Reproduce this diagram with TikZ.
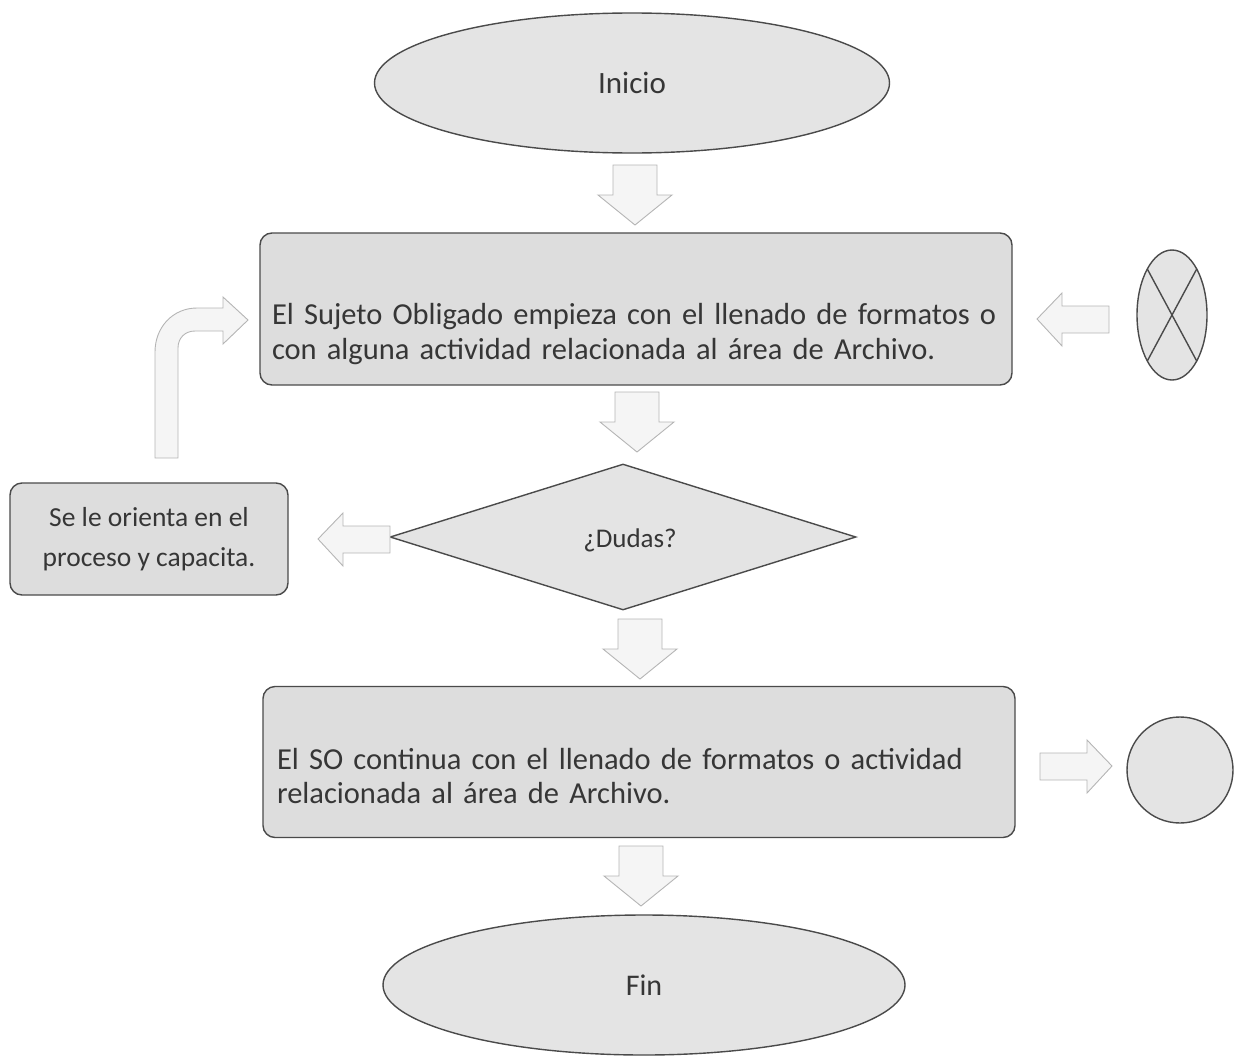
\documentclass[tikz,border=0pt]{standalone}
\usepackage{fontspec}
\setmainfont{Carlito}
\usetikzlibrary{shapes.geometric,calc}
\definecolor{txt}{HTML}{363636}
\definecolor{edge}{HTML}{4A4A4A}
\definecolor{boxfill}{HTML}{DDDDDD}
\definecolor{ellfill}{HTML}{E4E4E4}
\definecolor{arrline}{HTML}{B5B5B5}
\definecolor{arrfill}{HTML}{F5F5F5}
\tikzset{
  base/.style={draw=edge, line width=1.4pt, text=txt, font=\fontsize{27}{36}\selectfont, inner sep=0pt},
  term/.style={base, ellipse, fill=ellfill},
  procbox/.style={base, rectangle, rounded corners=12pt, fill=boxfill, align=left, font=\fontsize{30.5}{35.5}\selectfont},
  proctext/.style={text=txt, inner sep=0pt, align=left, font=\fontsize{30.5}{35.5}\selectfont},
  decision/.style={base, diamond, fill=ellfill},
  connect/.style={base, fill=ellfill},
  blockarrow/.style={draw=arrline, fill=arrfill, line width=0.9pt, line join=miter},
  pics/downarr/.style={code={
    \draw[blockarrow] (-22,0) -- (22,0) -- (22,30) -- (37,30) -- (0,60) -- (-37,30) -- (-22,30) -- cycle;}},
  pics/leftarr/.style={code={
    \draw[blockarrow] (0,0) -- (25,-26) -- (25,-13) -- (72,-13) -- (72,14) -- (25,14) -- (25,27) -- cycle;}},
}
\begin{document}
\begin{tikzpicture}[x=1pt,y=-1pt]
\useasboundingbox (0,0) rectangle (1234,1060);
% nodes
\node[term, minimum width=515pt, minimum height=140pt, font=\fontsize{31}{36}\selectfont] (inicio) at (632,83) {Inicio};
\node[procbox, minimum width=752pt, minimum height=152pt] (box1) at (636,309) {};
\node[proctext, text width=728pt] (box1txt) at ($(box1.center)+(0,25)$)
  {El Sujeto Obligado empieza con el llenado de formatos o\\con alguna actividad relacionada al área de Archivo.};
\node[decision, minimum width=466pt, minimum height=146pt] (dudas) at (623,537) {};
\node[text=txt, font=\fontsize{27}{36}\selectfont] (dudastxt) at (630,540) {¿Dudas?};
\node[procbox, align=center, minimum width=278pt, minimum height=112pt, font=\fontsize{27.5}{40}\selectfont] (orienta) at (149,539)
  {Se le orienta en el\\proceso y capacita.};
\node[procbox, minimum width=752pt, minimum height=151pt] (box3) at (639,762) {};
\node[proctext, text width=724pt, font=\fontsize{30.5}{34.5}\selectfont] (box3txt) at ($(box3.center)+(0,14)$)
  {El SO continua con el llenado de formatos o actividad\\relacionada al área de Archivo.};
\node[term, minimum width=522pt, minimum height=140pt, font=\fontsize{30}{36}\selectfont] (fin) at (644,985) {Fin};
\node[connect, ellipse, minimum width=70pt, minimum height=130pt] (xcon) at (1172,315) {};
\draw[edge, line width=1.4pt]
  ($(xcon.center)+(-24.7,-46)$) -- ($(xcon.center)+(24.7,46)$)
  ($(xcon.center)+(24.7,-46)$) -- ($(xcon.center)+(-24.7,46)$);
\node[connect, circle, minimum size=106pt] (ocon) at (1180,770) {};
% block arrows
\pic at (635,165) {downarr};
\pic at (637,392) {downarr};
\pic at (640,619) {downarr};
\pic at (641,846) {downarr};
\pic at (318,539) {leftarr};
\pic at (1037,319) {leftarr};
\pic[xscale=-1] at (1112,766) {leftarr};
\draw[blockarrow] (155,458) -- (155,352) .. controls (155,327) and (173,308) .. (197,308)
  -- (223,308) -- (223,297) -- (248,320) -- (223,344) -- (223,331) -- (195,331)
  .. controls (185,331) and (178,338) .. (178,348) -- (178,458) -- cycle;
\end{tikzpicture}
\end{document}
